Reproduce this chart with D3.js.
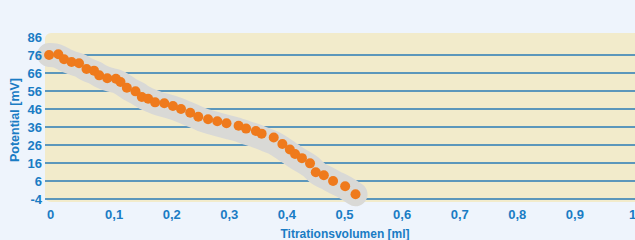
<!DOCTYPE html>
<html>
<head>
<meta charset="utf-8">
<script src="https://cdn.jsdelivr.net/npm/d3@7"></script>
<style>
  html, body { margin: 0; padding: 0; background: #eef4fc; }
  svg { display: block; font-family: "Liberation Sans", Arial, sans-serif; }
</style>
</head>
<body>
<div id="chart"></div>
<script>
// titration volume [ml] and potential [mV]
const volume = [-0.012, 0.004, 0.014, 0.027, 0.040, 0.053, 0.066, 0.075, 0.089, 0.104,
  0.112, 0.123, 0.138, 0.149, 0.160, 0.172, 0.188, 0.203, 0.217, 0.233,
  0.247, 0.264, 0.280, 0.296, 0.317, 0.330, 0.347, 0.357, 0.378, 0.393,
  0.406, 0.415, 0.427, 0.441, 0.451, 0.465, 0.481, 0.502, 0.520]
const potential = [76.0, 76.4, 73.6, 72.1, 71.4, 68.2, 67.3, 64.7, 63.1, 62.8,
  61.0, 57.8, 55.8, 52.7, 51.7, 49.7, 49.2, 47.7, 46.0, 43.9,
  41.7, 40.3, 39.2, 38.1, 36.7, 35.1, 33.8, 32.3, 30.2, 26.6,
  23.5, 21.0, 18.7, 15.8, 10.9, 9.2, 6.0, 3.1, -1.4]

const xTicks = [0, 0.1, 0.2, 0.3, 0.4, 0.5, 0.6, 0.7, 0.8, 0.9, 1]
const yTicks = [-4, 6, 16, 26, 36, 46, 56, 66, 76, 86]

const W = 635, H = 240
const PLOT = { LEFT: 45, RIGHT: 635, TOP: 33, BOTTOM: 202 }
const BLUE = '#1a7cc4'

const data = volume.map((v, i) => ({ v: v, p: potential[i] }))

const svg = d3.select('#chart').append('svg')
  .attr('width', W)
  .attr('height', H)

const x = d3.scaleLinear().domain([0, 1]).range([56, 632])
const y = d3.scaleLinear().domain([-4, 86]).range([199, 37])

// plot background
svg.append('rect')
  .attr('x', PLOT.LEFT)
  .attr('y', PLOT.TOP)
  .attr('width', PLOT.RIGHT - PLOT.LEFT + 6)
  .attr('height', PLOT.BOTTOM - PLOT.TOP)
  .attr('rx', 6)
  .attr('fill', '#f2ebcb')

// grid lines
svg.append('g').selectAll('line')
  .data(yTicks.filter(d => d < 86))
  .join('line')
    .attr('x1', PLOT.LEFT)
    .attr('x2', PLOT.RIGHT)
    .attr('y1', d => y(d))
    .attr('y2', d => y(d))
    .attr('stroke', '#2a7bb6')
    .attr('stroke-width', 1.4)

// grey band behind the points, smoothed
const band = d3.line()
  .x(d => x(d.v))
  .y(d => y(d.p))
  .curve(d3.curveBundle.beta(0.75))

svg.append('path')
  .datum(data)
  .attr('d', band)
  .attr('fill', 'none')
  .attr('stroke', '#d9d9d6')
  .attr('stroke-width', 24)
  .attr('stroke-linecap', 'round')
  .attr('stroke-linejoin', 'round')

// points
svg.append('g').selectAll('circle')
  .data(data)
  .join('circle')
    .attr('cx', d => x(d.v))
    .attr('cy', d => y(d.p))
    .attr('r', 5)
    .attr('fill', '#ef7a1c')

const comma = d => String(d).replace('.', ',')

// axes
const xAxis = svg.append('g')
  .attr('transform', `translate(0, ${PLOT.BOTTOM})`)
  .call(d3.axisBottom(x).tickValues(xTicks).tickSize(0).tickPadding(8).tickFormat(comma))
const yAxis = svg.append('g')
  .attr('transform', `translate(${PLOT.LEFT - 3}, 0)`)
  .call(d3.axisLeft(y).tickValues(yTicks).tickSize(0).tickPadding(0).tickFormat(d => String(d)))

svg.selectAll('.domain').remove()
svg.selectAll('.tick text')
  .attr('fill', BLUE)
  .attr('font-size', 13)
  .attr('font-weight', 'bold')
  .attr('font-family', '"Liberation Sans", Arial, sans-serif')
xAxis.selectAll('.tick text').filter(d => d === 0).attr('dx', -6)

// axis titles
svg.append('text')
  .attr('x', 345)
  .attr('y', 238)
  .attr('text-anchor', 'middle')
  .attr('font-size', 12)
  .attr('font-weight', 'bold')
  .attr('fill', BLUE)
  .text('Titrationsvolumen [ml]')

svg.append('text')
  .attr('transform', 'translate(19, 120) rotate(-90)')
  .attr('text-anchor', 'middle')
  .attr('font-size', 12.5)
  .attr('font-weight', 'bold')
  .attr('fill', BLUE)
  .text('Potential [mV]')
</script>
</body>
</html>
